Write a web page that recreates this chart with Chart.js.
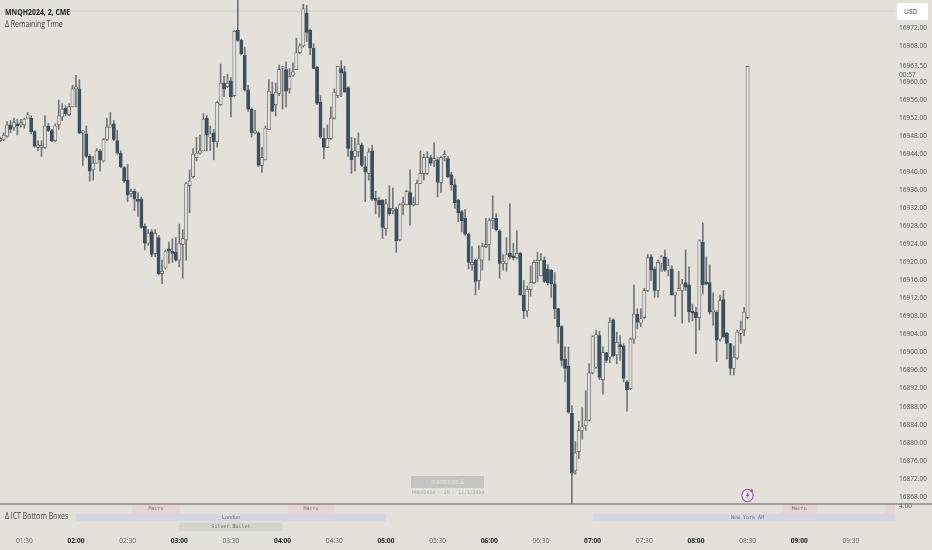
<!DOCTYPE html>
<html>
<head>
<meta charset="utf-8">
<title>MNQH2024</title>
<script src="https://cdn.jsdelivr.net/npm/chart.js@4/dist/chart.umd.min.js"></script>
<style>
html, body { margin: 0; padding: 0; background: #e4e1db; overflow: hidden; }
#wrap { position: relative; width: 932px; height: 550px; font-family: "Open Sans", sans-serif; }
#wrap canvas { position: absolute; left: 0; top: 0; }
.txt { position: absolute; white-space: nowrap; color: #333; }
.narrow { font-size: 9.5px; transform: scaleX(0.73); transform-origin: left center; }
</style>
</head>
<body>
<div id="wrap">
    <canvas id="priceChart" width="932" height="550"></canvas>
    <div class="txt narrow" style="left:5px;top:5px;font-weight:700;color:#222;">MNQH2024, 2, CME</div>
    <div class="txt narrow" style="left:5px;top:17px;color:#444;">Δ Remaining Time</div>
    <div class="txt narrow" style="left:5px;top:509px;color:#444;">Δ ICT Bottom Boxes</div>
    <div class="txt" style="left:897px;top:3px;width:31px;height:17px;line-height:17px;background:#fff;border-radius:2px;font-size:6.5px;color:#444;text-indent:7px;">USD</div>
    <div class="txt" style="left:411px;top:476px;width:73px;height:12px;line-height:12px;background:#c6c4c0;font-size:6.5px;color:#e2e0dc;text-align:center;">tradesize Δ</div>
    <div class="txt" style="left:412px;top:488px;font-size:4.8px;line-height:9px;font-family:'DejaVu Sans Mono',monospace;color:#a9a7a3;">MNQH2024 · 2M · 12/1/2024</div>
    <svg style="position:absolute;left:740px;top:487px" width="16" height="16" viewBox="0 0 16 16">
        <ellipse cx="7.5" cy="8.5" rx="5.6" ry="6.2" fill="#ece9f0" stroke="#a24bc4" stroke-width="1.1"></ellipse>
        <path d="M8.6 4.6 L5.8 9 H7.6 L6.4 12.2 L9.6 7.6 H7.8 Z" fill="#8a3fae"></path>
        <circle cx="11.6" cy="3.6" r="1.4" fill="#e23b4a"></circle>
    </svg>
</div>
<script>
// 2 minute bars, first bar at 01:16, last bar at 08:30
const firstBarMinute = 76;
const barMinutes = 2;

const barOpen = [
    16947, 16947.25, 16948, 16950.5, 16950, 16950.75, 16950.5, 16950.5, 16952, 16952,
    16949, 16945.5, 16945.5, 16945.5, 16950.25, 16949.25, 16947, 16950.5, 16952.25, 16954.25,
    16952.75, 16954.5, 16958.5, 16958.5, 16948.75, 16948.5, 16943.5, 16940.5, 16942, 16944.75,
    16942.5, 16947.25, 16950, 16950.75, 16947, 16944.25, 16941, 16938.25, 16935.25, 16935.75,
    16934, 16934, 16928, 16924.25, 16926.75, 16922, 16925.5, 16917.5, 16918.75, 16923,
    16922.25, 16922.25, 16920.5, 16924, 16925, 16937, 16939, 16943.25, 16944.25, 16944.75,
    16952, 16947.75, 16948.75, 16946.75, 16955, 16959.75, 16959, 16960.25, 16957, 16971.5,
    16969.25, 16966, 16958.25, 16954, 16948.75, 16948.75, 16941.5, 16942.75, 16949.5, 16957.25,
    16955, 16957.5, 16963, 16962.75, 16958.5, 16961.5, 16962.75, 16966.5, 16968, 16975.25,
    16971.5, 16967.5, 16963.25, 16955.5, 16947.5, 16945.5, 16947.5, 16952, 16957, 16963,
    16962.25, 16958.75, 16944.75, 16943.5, 16944.5, 16946, 16941.25, 16939.75, 16944.75, 16934,
    16933.75, 16933.75, 16927.5, 16932, 16931.5, 16931.75, 16925, 16932.75, 16932.75, 16935.5,
    16932.75, 16932.75, 16937.5, 16939.75, 16939.75, 16943.25, 16942.5, 16942.75, 16937.75, 16943.5,
    16943, 16939.5, 16937.25, 16933.75, 16931.25, 16929.75, 16926.25, 16919.5, 16920.5, 16916,
    16920.5, 16923.5, 16924, 16929.25, 16929.75, 16927, 16919.75, 16919.75, 16922, 16921.25,
    16921, 16922, 16912.75, 16909.25, 16914, 16915.5, 16920, 16917, 16920.5, 16918.5,
    16918.25, 16915.25, 16909.75, 16905.75, 16898.5, 16897, 16886.5, 16873.75, 16878, 16882.75,
    16883.75, 16885, 16895.5, 16896.75, 16903.75, 16894, 16900, 16899, 16907.25, 16899.5,
    16901.75, 16901.5, 16893.5, 16892, 16903, 16908.5, 16906.5, 16907.75, 16913.75, 16921.25,
    16918.5, 16913.75, 16919.75, 16921.25, 16918.25, 16918.5, 16912.75, 16913.75, 16913.75, 16915.5,
    16915, 16909, 16909, 16907.75, 16924.5, 16915.5, 16915.5, 16909, 16909, 16903,
    16911.75, 16904.25, 16902, 16896.5, 16898.75, 16904.25, 16905, 16907.75
];
const barHigh = [
    16947.75, 16948.75, 16951.25, 16951.5, 16952, 16951.75, 16951.75, 16952, 16953.25, 16952.5,
    16949.25, 16947, 16947, 16952.5, 16950.75, 16949.5, 16950.75, 16956, 16955.25, 16954.75,
    16955.25, 16959.25, 16961.5, 16960.5, 16949.25, 16950.25, 16944, 16943.5, 16945.25, 16945,
    16947.5, 16952, 16953.25, 16951.5, 16949.25, 16944.75, 16941.25, 16941.75, 16936.25, 16936.25,
    16935.5, 16934.5, 16928.5, 16927.25, 16927.25, 16927.25, 16926, 16920.5, 16922.75, 16924.5,
    16925.25, 16925.5, 16928.5, 16927.25, 16937.75, 16940.5, 16945.25, 16947.75, 16948.25, 16953,
    16952.5, 16950.25, 16949.5, 16955.75, 16964, 16961.25, 16961.75, 16961, 16971.5, 16979,
    16969.5, 16967.75, 16959.25, 16954.25, 16953.75, 16949, 16945.5, 16950.25, 16960.5, 16960,
    16959.75, 16963.75, 16963, 16964.5, 16963, 16964.25, 16969.75, 16968.5, 16977.25, 16977,
    16971.75, 16968.5, 16963.5, 16957, 16949.75, 16950.5, 16954.5, 16958.5, 16963.5, 16964.75,
    16963.5, 16959, 16947.75, 16947.5, 16948.75, 16946.5, 16943.5, 16945.25, 16946, 16935.75,
    16934.5, 16934, 16934, 16937, 16936.5, 16932.25, 16933, 16934.5, 16936, 16940.5,
    16934.5, 16938.25, 16944.75, 16944, 16944.5, 16943.75, 16946.5, 16943.25, 16943.5, 16944.75,
    16943.5, 16940, 16938.5, 16934, 16931.5, 16931.75, 16926.5, 16923.5, 16920.75, 16923.75,
    16924.25, 16929.75, 16929.75, 16934.75, 16930.75, 16927.25, 16921.75, 16925.5, 16933, 16924.25,
    16927, 16922.25, 16916, 16914.75, 16919.25, 16920.5, 16922.25, 16922, 16921.25, 16919.5,
    16918.5, 16917.75, 16909.75, 16906, 16901.25, 16901.25, 16888.25, 16880.25, 16884.75, 16887.75,
    16891.5, 16897.5, 16903.75, 16905, 16904.75, 16901.25, 16900, 16907.75, 16907.5, 16904.5,
    16903.75, 16902, 16893.75, 16903.25, 16915, 16909.75, 16909.75, 16914.25, 16921.75, 16921.75,
    16919, 16920.5, 16921.5, 16922.75, 16920.75, 16919.25, 16913.25, 16918, 16916.25, 16922.75,
    16919, 16910.75, 16910, 16925, 16928.75, 16921.25, 16919.5, 16913.25, 16909.25, 16912.75,
    16913.75, 16904.5, 16902, 16901.5, 16905, 16907, 16910, 16963.5
];
const barLow = [
    16946.75, 16947, 16947.75, 16948.75, 16949.25, 16948.25, 16950, 16949.75, 16952, 16948.5,
    16945.5, 16944.75, 16943.5, 16945.25, 16949, 16946.75, 16946.75, 16949.5, 16951.5, 16952.5,
    16952.5, 16954.5, 16954.5, 16948.5, 16941.5, 16943.25, 16938, 16938.25, 16942, 16940.25,
    16942.25, 16947, 16950, 16947, 16944, 16941, 16937.75, 16933.5, 16934.5, 16931.5,
    16930.25, 16927.5, 16922.75, 16923.75, 16921.25, 16921.25, 16917.25, 16915.25, 16918.5, 16919.75,
    16920, 16920.25, 16919, 16916.5, 16920.5, 16931, 16938.75, 16942.5, 16944, 16944.75,
    16944.75, 16944.75, 16942.75, 16945.5, 16954.75, 16956.75, 16958.75, 16952.25, 16956.75, 16969,
    16966, 16958, 16953.5, 16947.75, 16948.5, 16941.25, 16940, 16942.75, 16949.5, 16953.5,
    16952.5, 16957, 16954, 16954.5, 16957.5, 16961.25, 16962.75, 16966.25, 16967.75, 16969,
    16966, 16963, 16955, 16947.5, 16943, 16945.5, 16947.25, 16951.75, 16956.5, 16956.75,
    16957.75, 16943.5, 16939.75, 16940.25, 16943.5, 16941.25, 16933.5, 16938.25, 16933.75, 16930.75,
    16930, 16925.25, 16926, 16930.5, 16930.75, 16922.25, 16924.75, 16930.5, 16932.75, 16928.25,
    16932.5, 16932.75, 16937.5, 16938.25, 16939.5, 16941.5, 16941.25, 16934.5, 16935.5, 16942.5,
    16938.75, 16936, 16932, 16929, 16926.75, 16926, 16918.5, 16918.25, 16912.75, 16914,
    16918.25, 16923.25, 16920.5, 16927.5, 16927, 16916.5, 16918.25, 16918, 16920.75, 16920.5,
    16920.75, 16912.75, 16907.5, 16908, 16912.5, 16915.25, 16915.75, 16917, 16915.5, 16915,
    16912.25, 16907.5, 16902, 16897, 16893.5, 16886.5, 16865, 16873, 16876.5, 16880.75,
    16882.75, 16884.75, 16895.25, 16896.5, 16894, 16890.75, 16897.75, 16897.75, 16899, 16897.5,
    16898.25, 16893.5, 16887, 16891.75, 16902, 16905.25, 16905.75, 16907.5, 16913.5, 16916,
    16912.25, 16912.25, 16918, 16918, 16917, 16912.75, 16908, 16913.75, 16906.5, 16913.75,
    16906.75, 16907, 16899.75, 16905, 16913, 16915, 16908.5, 16906, 16898, 16902.5,
    16903.25, 16898.5, 16895, 16895, 16898.5, 16902, 16903.75, 16907.5
];
const barClose = [
    16947.5, 16948.25, 16950.5, 16949.5, 16951, 16950.25, 16950.75, 16951.75, 16952.75, 16949,
    16945.75, 16946, 16945.5, 16950.25, 16949.25, 16947, 16950.25, 16952.5, 16954, 16953,
    16954.5, 16958.5, 16958.5, 16948.75, 16948.75, 16943.5, 16940.25, 16942, 16944.75, 16942.75,
    16947.25, 16950, 16950.5, 16947.25, 16944.25, 16941.25, 16938, 16935, 16935.5, 16934,
    16933.5, 16927.75, 16924.25, 16926.5, 16921.75, 16926.5, 16917.5, 16918, 16922.5, 16922.5,
    16922, 16920.5, 16924.25, 16925.25, 16937.5, 16938, 16944, 16944.25, 16944.75, 16951.75,
    16948.25, 16948.5, 16946.75, 16955.5, 16959.75, 16958.5, 16959.75, 16956.75, 16971.25, 16969.25,
    16966.25, 16958.25, 16954, 16948.75, 16948.75, 16941.5, 16943.25, 16949.75, 16958, 16953.5,
    16957.75, 16962.75, 16963, 16958, 16961.25, 16962.25, 16966.5, 16968, 16976.25, 16971,
    16967.5, 16963, 16955.25, 16947.75, 16945.5, 16947.5, 16952, 16957.75, 16963.5, 16962,
    16957.75, 16945.25, 16942.75, 16944.75, 16946.25, 16941.5, 16940, 16944.5, 16934, 16933.75,
    16932.75, 16927.75, 16933, 16930.75, 16931.75, 16924.75, 16932.75, 16932.75, 16935.75, 16932.75,
    16932.75, 16937.5, 16939.75, 16943.25, 16943.25, 16942, 16943, 16937.75, 16943.25, 16943.5,
    16939, 16937.25, 16933.25, 16931, 16929.25, 16926.25, 16920, 16920, 16915.75, 16920.75,
    16923.5, 16923.75, 16929.25, 16929.25, 16927.25, 16919.75, 16919.75, 16921.75, 16921.25, 16921,
    16922, 16912.75, 16909.25, 16914, 16915.5, 16920, 16920.25, 16920.5, 16915.75, 16915.5,
    16915.25, 16909.75, 16905.75, 16898.25, 16896.5, 16886.75, 16873.25, 16877.75, 16882.75, 16883.5,
    16885, 16895.5, 16903.5, 16904, 16894.5, 16900, 16898.25, 16906.75, 16899.25, 16902.25,
    16901.25, 16894.25, 16891.75, 16903, 16908.5, 16906.75, 16907.5, 16913.75, 16921, 16918.25,
    16913.75, 16920, 16921.25, 16918.25, 16919.25, 16912.75, 16913.25, 16914, 16915.25, 16914.5,
    16909, 16908.75, 16907.75, 16924.75, 16915, 16915.25, 16909, 16909, 16902.75, 16911.5,
    16903.5, 16902, 16896.5, 16899, 16904.5, 16905, 16909, 16963.5
];

const lastPrice = 16963.5;
const lastPriceLabel = '16963.50';
const countdownLabel = '00:57';
const previousHigh = 16975.75;

const priceTicks = [
    16972, 16968, 16963.5, 16960, 16956, 16952, 16948, 16944, 16940, 16936, 16932, 16928, 16924, 16920,
    16916, 16912, 16908, 16904, 16900, 16896, 16892, 16888, 16884, 16880, 16876, 16872, 16868
];
const paneTickLabel = '4.00';

const timeTicks = [90, 120, 150, 180, 210, 240, 270, 300, 330, 360, 390, 420, 450, 480, 510, 540, 570];
const timeLabels = [
    '01:30', '02:00', '02:30', '03:00', '03:30', '04:00', '04:30', '05:00', '05:30',
    '06:00', '06:30', '07:00', '07:30', '08:00', '08:30', '09:00', '09:30'
];

const sessionNames = ['Macro', 'Macro', 'Macro', 'Macro', 'London', 'New York AM', 'Silver Bullet'];
const sessionStart = [153, 243, 530, 590, 120, 420, 180];
const sessionEnd = [180, 270, 550, 610, 300, 600, 240];
const sessionRow = [0.5, 0.5, 0.5, 0.5, 1.5, 1.5, 2.5];
const sessionWidth = [10, 10, 10, 10, 7.5, 7.5, 8.5];
const sessionColor = ['#e6d3d5', '#e6d3d5', '#e6d3d5', '#e6d3d5', '#d4d6e3', '#d4d6e3', '#d3d5cd'];

const upFill = '#e4e1db';
const downFill = '#3b5060';
const candleLine = '#55585a';
const wickLine = '#737475';

const xMin = 75.9;
const xMax = 595.6;
const yMin = 16866.4;
const yMax = 16978.2;

const barX = barOpen.map((v, i) => firstBarMinute + i * barMinutes);
const isHour = (c) => Boolean(c.tick) && c.tick.value % 60 === 0;

function sessionDatasets() {
    return sessionNames.map((name, i) => ({
        type: 'line',
        label: name,
        order: 5,
        xAxisID: 'x',
        yAxisID: 'y2',
        data: [
            { x: sessionStart[i], y: sessionRow[i] },
            { x: sessionEnd[i], y: sessionRow[i] },
        ],
        borderColor: sessionColor[i],
        borderWidth: sessionWidth[i],
        borderCapStyle: 'butt',
        pointRadius: 0,
    }));
}

function noPadding(scale) {
    scale.paddingTop = 0;
    scale.paddingBottom = 0;
    scale.paddingLeft = 0;
    scale.paddingRight = 0;
}

// session names and the countdown under the last price
const textPlugin = {
    id: 'textPlugin',
    afterDatasetsDraw(chart) {
        const ctx = chart.ctx;
        const x = chart.scales.x;
        const y = chart.scales.y;
        const y2 = chart.scales.y2;
        ctx.save();
        ctx.font = '5px "DejaVu Sans Mono"';
        ctx.fillStyle = '#6f6f70';
        ctx.textAlign = 'center';
        ctx.textBaseline = 'middle';
        sessionNames.forEach((name, i) => {
            const mid = (sessionStart[i] + sessionEnd[i]) / 2;
            if (mid < xMax) {
                ctx.fillText(name, x.getPixelForValue(mid), y2.getPixelForValue(sessionRow[i]));
            }
        });
        ctx.font = '6.6px "Open Sans"';
        ctx.fillStyle = '#555';
        ctx.textAlign = 'left';
        ctx.fillText(countdownLabel, 899, y.getPixelForValue(lastPrice) + 9);
        ctx.restore();
    },
};

new Chart(document.getElementById('priceChart').getContext('2d'), {
    type: 'bar',
    data: {
        datasets: [
            {
                type: 'line',
                label: 'high line',
                order: 6,
                yAxisID: 'y',
                data: [{ x: xMin, y: previousHigh }, { x: xMax, y: previousHigh }],
                borderColor: '#cfcdc8',
                borderWidth: 1,
                pointRadius: 0,
            },
            ...sessionDatasets(),
            {
                type: 'line',
                label: 'pane line',
                order: 4,
                xAxisID: 'x',
                yAxisID: 'y2',
                clip: false,
                data: [{ x: xMin, y: 0 }, { x: xMax + 25, y: 0 }],
                borderColor: '#8b8a86',
                borderWidth: 1.5,
                pointRadius: 0,
            },
            {
                label: 'wicks',
                order: 3,
                yAxisID: 'y',
                grouped: false,
                barThickness: 1,
                data: barX.map((x, i) => ({ x: x, y: [barLow[i], barHigh[i]] })),
                backgroundColor: wickLine,
            },
            {
                label: 'bodies',
                order: 2,
                yAxisID: 'y',
                grouped: false,
                barThickness: 3.2,
                minBarLength: 2,
                borderSkipped: false,
                borderWidth: 0.7,
                data: barX.map((x, i) => ({ x: x, y: [barOpen[i], barClose[i]] })),
                backgroundColor: barOpen.map((o, i) => (barClose[i] >= o ? upFill : downFill)),
                borderColor: barOpen.map((o, i) => (barClose[i] >= o ? candleLine : downFill)),
            },
        ],
    },
    options: {
        responsive: false,
        animation: false,
        layout: { padding: 0 },
        plugins: { legend: { display: false }, tooltip: { enabled: false } },
        scales: {
            x: {
                type: 'linear',
                offset: false,
                min: xMin,
                max: xMax,
                bounds: 'data',
                grid: { display: false, drawTicks: false },
                border: { display: false },
                afterBuildTicks: (scale) => {
                    scale.ticks = timeTicks.map((v) => ({ value: v }));
                },
                afterFit: (scale) => {
                    scale.height = 17;
                    noPadding(scale);
                },
                ticks: {
                    autoSkip: false,
                    maxRotation: 0,
                    padding: 4,
                    color: (c) => (isHour(c) ? '#222' : '#666'),
                    font: (c) => ({
                        family: 'Open Sans',
                        size: 6.6,
                        weight: isHour(c) ? 'bold' : 'normal',
                    }),
                    callback: (v) => timeLabels[timeTicks.indexOf(v)],
                },
            },
            y: {
                position: 'right',
                stack: 'panes',
                stackWeight: 504,
                min: yMin,
                max: yMax,
                bounds: 'data',
                grid: { display: false, drawTicks: false },
                border: { display: false },
                afterBuildTicks: (scale) => {
                    scale.ticks = priceTicks.map((v) => ({ value: v }));
                },
                afterFit: (scale) => {
                    scale.width = 37;
                    noPadding(scale);
                },
                ticks: {
                    autoSkip: false,
                    padding: 4,
                    color: '#555',
                    font: { family: 'Open Sans', size: 6.6 },
                    callback: (v) => (v === lastPrice ? lastPriceLabel : v.toFixed(2)),
                },
            },
            y2: {
                position: 'right',
                stack: 'panes',
                stackWeight: 29,
                reverse: true,
                min: 0,
                max: 3.2,
                bounds: 'data',
                grid: { display: false, drawTicks: false },
                border: { display: false },
                afterBuildTicks: (scale) => {
                    scale.ticks = [{ value: 0.2 }];
                },
                afterFit: (scale) => {
                    scale.width = 37;
                    noPadding(scale);
                },
                ticks: {
                    autoSkip: false,
                    padding: 4,
                    color: '#555',
                    font: { family: 'Open Sans', size: 6.6 },
                    callback: () => paneTickLabel,
                },
            },
        },
    },
    plugins: [textPlugin],
});
</script>
</body>
</html>
